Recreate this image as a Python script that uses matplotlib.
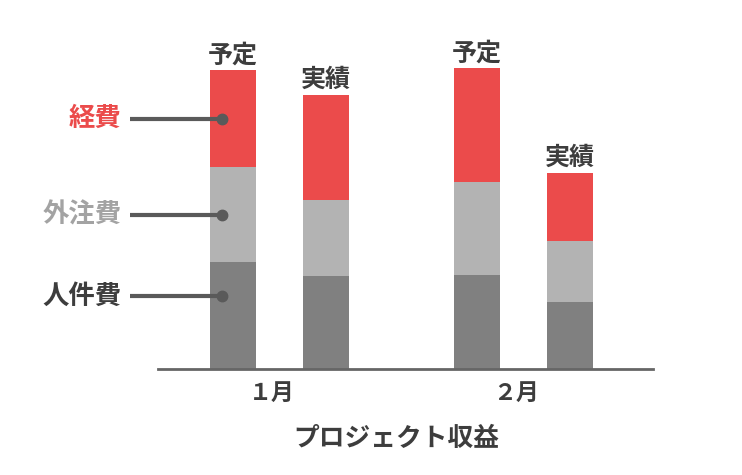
import matplotlib
matplotlib.use("Agg")
import matplotlib.pyplot as plt
import numpy as np

plt.rcParams['font.family'] = ['Noto Sans CJK JP', 'DejaVu Sans']

months = ["１月", "２月"]
bar_names = ["予定", "実績", "予定", "実績"]
series_names = ["人件費", "外注費", "経費"]
personnel = [106.5, 92.5, 93.5, 66.5]
outsourcing = [95, 76, 93, 61]
expenses = [97, 105, 114, 68]
title = "プロジェクト収益"

colors = ["#808080", "#b3b3b3", "#eb4b4b"]
label_colors = ["#3d3d3d", "#a3a3a3", "#eb4b4b"]
text_color = "#3d3d3d"
line_color = "#5a5a5a"

fig = plt.figure(figsize=(7.42, 4.75), dpi=100)
ax = fig.add_axes([158/742, (475-368.5)/475, 495/742, 350/475])

group_pos = np.array([0.0, 1.0])
offset = 0.19
width = 0.189
xs = np.array([group_pos[0]-offset, group_pos[0]+offset,
               group_pos[1]-offset, group_pos[1]+offset])

series = [personnel, outsourcing, expenses]
bottom = np.zeros(4)
bottoms = []
for vals, c in zip(series, colors):
    ax.bar(xs, vals, width=width, bottom=bottom, color=c, linewidth=0)
    bottoms.append(bottom.copy())
    bottom = bottom + np.array(vals)

for x, top, name in zip(xs, bottom, bar_names):
    ax.annotate(name, (x, top), xytext=(0, 2), textcoords="offset points",
                ha="center", va="bottom", fontsize=18, fontweight="bold",
                color=text_color)

# legend callouts on first bar
fracs = [0.68, 0.5, 0.5]
dot_x = xs[0] - width * 0.24
line_start = -0.613
for i, (name, lc) in enumerate(zip(series_names, label_colors)):
    y = bottoms[i][0] + series[i][0] * fracs[i]
    ax.plot([line_start, dot_x], [y, y], color=line_color, lw=3, clip_on=False,
            solid_capstyle="butt")
    ax.plot([dot_x], [y], "o", color=line_color, markersize=7.5, clip_on=False)
    ax.annotate(name, (line_start, y), xytext=(-6, 0), textcoords="offset points",
                ha="right", va="center", fontsize=19, fontweight="bold", color=lc,
                annotation_clip=False)

ax.set_xlim(-0.498, 1.531)
ax.set_ylim(0, 350)
for s in ["top", "right", "left"]:
    ax.spines[s].set_visible(False)
ax.spines["bottom"].set_color("#666666")
ax.spines["bottom"].set_linewidth(2)
ax.set_yticks([])
ax.set_xticks(group_pos - 0.032)
ax.set_xticklabels(months, fontsize=16.5, fontweight="bold", color=text_color)
ax.tick_params(axis="x", length=0, pad=10)
ax.set_xlabel(title, fontsize=18.5, fontweight="bold", color=text_color)
ax.xaxis.set_label_coords((396-158)/495, -(425-368.5)/350)

fig.savefig("out.png", dpi=100)
